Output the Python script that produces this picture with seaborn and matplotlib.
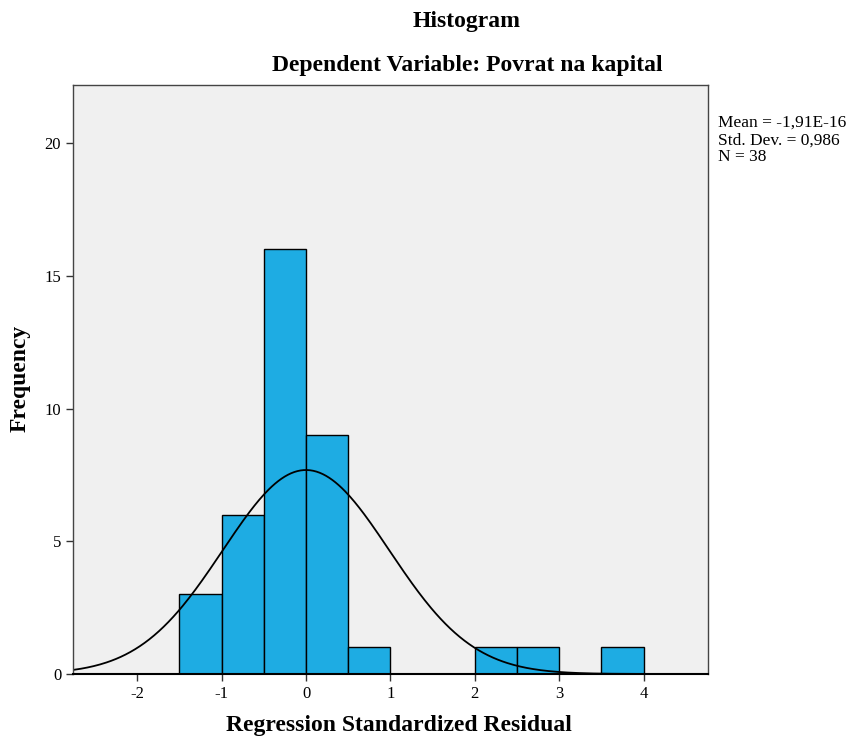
import numpy as np
import pandas as pd
import matplotlib
matplotlib.use('Agg')
import matplotlib.pyplot as plt
import seaborn as sns

# ── data ─────────────────────────────────────────────────────
bin_edges = [-1.5, -1.0, -0.5, 0.0, 0.5, 1.0, 1.5, 2.0, 2.5, 3.0, 3.5, 4.0]
bin_counts = [3, 6, 16, 9, 1, 0, 0, 1, 1, 0, 1]
res_mean = -1.91e-16
res_sd = 0.986
n_obs = 38

sns.set_style('white')
plt.rcParams['font.family'] = ['Liberation Serif', 'DejaVu Serif']
plt.rcParams['axes.unicode_minus'] = False
plt.rcParams['text.color'] = 'black'
plt.rcParams['xtick.color'] = 'black'
plt.rcParams['ytick.color'] = 'black'

centers = [(a + b) / 2 for a, b in zip(bin_edges[:-1], bin_edges[1:])]
df = pd.DataFrame({'center': centers, 'count': bin_counts})

fig = plt.figure(figsize=(8.51, 7.40), dpi=100)
ax = fig.add_axes([0.0858, 0.0892, 0.746, 0.796])
ax.set_facecolor('#F0F0F0')

sns.histplot(data=df, x='center', weights='count', bins=bin_edges,
             color='#1EACE3', edgecolor='black', linewidth=1.0,
             alpha=1.0, ax=ax)

# fitted normal curve (scaled to counts)
width = 0.5
xs = np.linspace(-2.76, 4.76, 400)
ys = n_obs * width * np.exp(-0.5 * ((xs - res_mean) / res_sd) ** 2) / (res_sd * np.sqrt(2 * np.pi))
sns.lineplot(x=xs, y=ys, color='black', linewidth=1.3, ax=ax)

ax.set_xlim(-2.76, 4.76)
ax.set_ylim(0, 22.2)
ax.set_xticks([-2, -1, 0, 1, 2, 3, 4])
ax.set_yticks([0, 5, 10, 15, 20])
ax.tick_params(axis='both', direction='out', length=5, width=1, color='#333333',
               labelsize=12, labelcolor='black', bottom=True, left=True)
for s in ax.spines.values():
    s.set_color('#444444')
    s.set_linewidth(1.0)
ax.spines['bottom'].set_color('black')
ax.spines['bottom'].set_linewidth(1.5)
ax.set_xlabel('')
ax.set_ylabel('')

fig.text(467 / 851, 1 - 22 / 740, 'Histogram', ha='center', va='center',
         fontsize=17, fontweight='bold')
fig.text(467 / 851, 1 - 66 / 740, 'Dependent Variable: Povrat na kapital',
         ha='center', va='center', fontsize=17, fontweight='bold')
fig.text(399 / 851, 1 - 725 / 740, 'Regression Standardized Residual',
         ha='center', va='center', fontsize=17, fontweight='bold')
fig.text(20 / 851, 1 - 378 / 740, 'Frequency', ha='center', va='center',
         rotation=90, fontsize=17, fontweight='bold')
fig.text(718 / 851, 1 - 115 / 740,
         'Mean = -1,91E-16\nStd. Dev. = 0,986\nN = 38',
         ha='left', va='top', fontsize=12.5, linespacing=1.1)

plt.savefig('out.png', dpi=100)
plt.close()
